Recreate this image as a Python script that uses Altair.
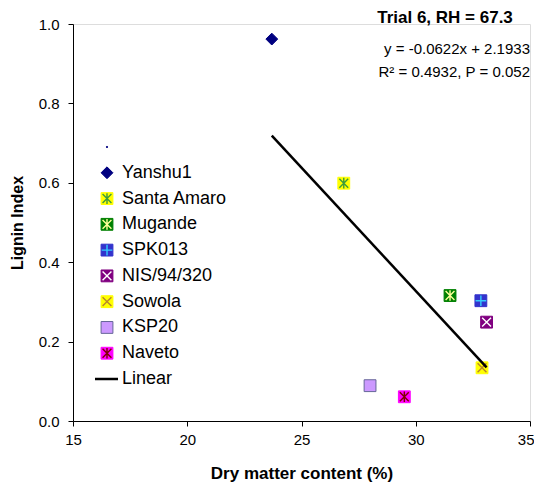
import altair as alt
import pandas as pd

# ---- data ----
names = ["Yanshu1", "Santa Amaro", "Mugande", "SPK013", "NIS/94/320", "Sowola", "KSP20", "Naveto"]
dry_matter = [23.7, 26.85, 31.5, 32.85, 33.1, 32.9, 28.0, 29.5]
lignin = [0.962, 0.599, 0.316, 0.303, 0.249, 0.134, 0.089, 0.061]

trend_x = [23.7, 33.1]
trend_y = [0.719, 0.135]

x_ticks = [15, 20, 25, 30, 35]
y_ticks = [0.0, 0.2, 0.4, 0.6, 0.8, 1.0]

title_text = "Trial 6, RH = 67.3"
eq_line1 = "y = -0.0622x + 2.1933"
eq_line2 = "R² = 0.4932, P = 0.052"

# ---- marker styles (Excel-like composite markers) ----
X_PATH = "M-0.75,-0.75L0.75,0.75M-0.75,0.75L0.75,-0.75"
AST_PATH = "M-0.75,-0.75L0.75,0.75M-0.75,0.75L0.75,-0.75M0,-0.9L0,0.9"
PLUS_PATH = "M0,-0.9L0,0.9M-0.9,0L0.9,0"

base_shape = ["diamond", "square", "square", "square", "square", "square", "square", "square"]
fill_col = ["#000080", "#FFFF00", "#008000", "#3333CC", "#800080", "#FFFF00", "#CC99FF", "#FF00FF"]
border_col = ["#000080", "#FFFF00", "#008000", "#3333CC", "#800080", "#FFFF00", "#666699", "#FF00FF"]
over_shape = ["", AST_PATH, AST_PATH, PLUS_PATH, X_PATH, X_PATH, "", AST_PATH]
over_col = ["", "#3C9B3C", "#FFFF99", "#33CCFF", "#FFFFFF", "#B8862B", "", "#800000"]

df = pd.DataFrame({
    "name": names, "dm": dry_matter, "lig": lignin,
    "shape": base_shape, "fill": fill_col, "border": border_col,
    "oshape": over_shape, "ocol": over_col,
})
trend = pd.DataFrame({"dm": trend_x, "lig": trend_y})

leg_names = [""] + names + ["Linear"]
leg = pd.DataFrame({
    "label": leg_names,
    "idx": list(range(len(leg_names))),
    "shape": ["circle"] + base_shape + [""],
    "fill": ["#000080"] + fill_col + [""],
    "border": ["#000080"] + border_col + [""],
    "oshape": [""] + over_shape + [""],
    "ocol": [""] + over_col + [""],
    "size": [2] + [140] * len(names) + [0],
})

FONT = "Liberation Sans"
W, H = 457, 397

xs = alt.Scale(domain=[15, 35], nice=False, zero=False)
ys = alt.Scale(domain=[0, 1], nice=False, zero=False)
legy = alt.Scale(domain=[0, 9], range=[123, 355])

x_axis = alt.Axis(values=x_ticks, grid=False, title="Dry matter content (%)",
                  labelFontSize=15, labelFont=FONT, labelColor="black", labelFlush=False,
                  labelAlign={"condition": {"test": "datum.value == 35", "value": "right"},
                              "value": "center"},
                  labelOffset={"condition": {"test": "datum.value == 35", "value": 4},
                               "value": 0},
                  tickColor="black", domainColor="black", tickSize=5, labelPadding=6,
                  titleFont=FONT, titleFontSize=17, titleFontWeight="bold", titleColor="black",
                  titleX=W / 2, titleY=52, titleBaseline="middle", titleAnchor="middle")
y_axis = alt.Axis(values=y_ticks, format=".1f", grid=False, title="Lignin Index",
                  labelFontSize=15, labelFont=FONT, labelColor="black", labelFlush=False,
                  tickColor="black", domainColor="black", tickSize=5, labelPadding=9,
                  titleFont=FONT, titleFontSize=16, titleFontWeight="bold", titleColor="black",
                  titleX=-56, titleY=H / 2, titleAngle=270, titleBaseline="middle",
                  titleAlign="center", titleAnchor="middle")

base = alt.Chart(df)

pts = base.mark_point(filled=True, size=140, strokeWidth=1, opacity=1).encode(
    x=alt.X("dm:Q", scale=xs, axis=x_axis),
    y=alt.Y("lig:Q", scale=ys, axis=y_axis),
    shape=alt.Shape("shape:N", scale=None),
    fill=alt.Fill("fill:N", scale=None),
    stroke=alt.Stroke("border:N", scale=None),
)

over = base.transform_filter("datum.oshape != ''").mark_point(
    filled=False, size=140, strokeWidth=1.4, opacity=1).encode(
    x=alt.X("dm:Q", scale=xs, axis=x_axis),
    y=alt.Y("lig:Q", scale=ys, axis=None),
    shape=alt.Shape("oshape:N", scale=None),
    stroke=alt.Stroke("ocol:N", scale=None),
)

line = alt.Chart(trend).mark_line(color="black", strokeWidth=2.5).encode(
    x=alt.X("dm:Q", scale=xs, axis=x_axis),
    y=alt.Y("lig:Q", scale=ys, axis=None),
)

lb = alt.Chart(leg)
leg_pts = lb.transform_filter("datum.shape != ''").mark_point(
    filled=True, strokeWidth=1, opacity=1).encode(
    x=alt.value(34),
    y=alt.Y("idx:Q", scale=legy, axis=None),
    shape=alt.Shape("shape:N", scale=None),
    fill=alt.Fill("fill:N", scale=None),
    stroke=alt.Stroke("border:N", scale=None),
    size=alt.Size("size:Q", scale=None),
)
leg_over = lb.transform_filter("datum.oshape != ''").mark_point(
    filled=False, size=140, strokeWidth=1.4, opacity=1).encode(
    x=alt.value(34),
    y=alt.Y("idx:Q", scale=legy, axis=None),
    shape=alt.Shape("oshape:N", scale=None),
    stroke=alt.Stroke("ocol:N", scale=None),
)
leg_line = lb.transform_filter("datum.label == 'Linear'").mark_rule(
    color="black", strokeWidth=2.5).encode(
    x=alt.value(22), x2=alt.value(45),
    y=alt.Y("idx:Q", scale=legy, axis=None),
)
leg_txt = lb.transform_filter("datum.label != ''").mark_text(
    align="left", baseline="middle", font=FONT, fontSize=18, color="black").encode(
    x=alt.value(49),
    y=alt.Y("idx:Q", scale=legy, axis=None),
    text="label:N",
)

ann = pd.DataFrame({"t": [title_text]})
title_mark = alt.Chart(ann).mark_text(
    align="center", baseline="middle", font=FONT, fontSize=17, fontWeight="bold",
    color="black").encode(x=alt.value(372), y=alt.value(-6), text="t:N")

eq = pd.DataFrame({"t": [eq_line1, eq_line2], "k": [0, 1]})
eq_mark = alt.Chart(eq).mark_text(
    align="right", baseline="middle", font=FONT, fontSize=15, color="black").encode(
    x=alt.value(457),
    y=alt.Y("k:Q", scale=alt.Scale(domain=[0, 1], range=[25, 48]), axis=None),
    text="t:N")

chart = alt.layer(
    pts, over, line, leg_pts, leg_over, leg_line, leg_txt, title_mark, eq_mark
).resolve_scale(y="independent").properties(
    width=W, height=H,
    autosize=alt.AutoSizeParams(type="none"),
    padding={"left": 65, "top": 16, "right": 4, "bottom": 70},
).configure_view(stroke=None).configure(background="white")

chart.save("out.html", embed_options={"renderer": "svg", "actions": False})
